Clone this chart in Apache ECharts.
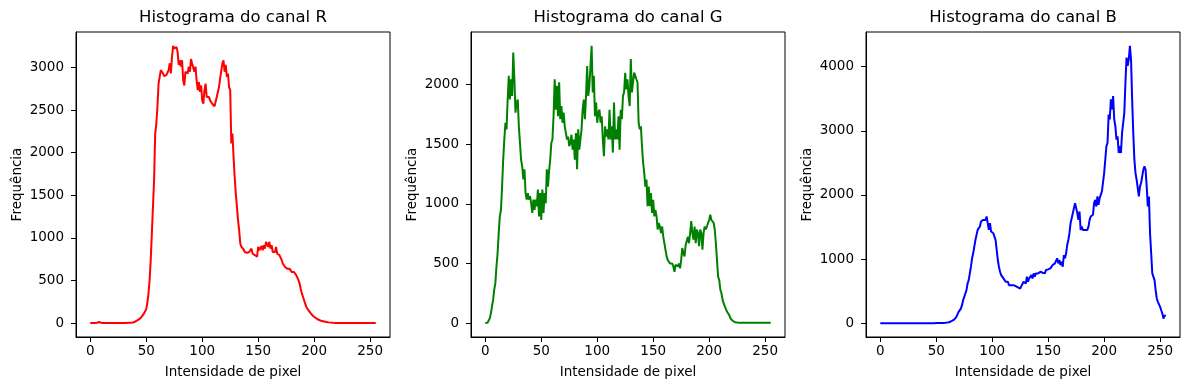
<!DOCTYPE html>
<html>
<head>
<meta charset="utf-8">
<script src="https://cdn.jsdelivr.net/npm/echarts@6/dist/echarts.min.js"></script>
<style>
html,body{margin:0;padding:0;background:#fff;}
#chart{width:1189px;height:390px;}
</style>
</head>
<body>
<div id="chart"></div>
<script>
// ---- data ----
const titles = ["Histograma do canal R", "Histograma do canal G", "Histograma do canal B"];
const xLabel = "Intensidade de pixel";
const yLabel = "Frequência";
const colors = ["#ff0000", "#008000", "#0000ff"];
const xTicks = [0, 50, 100, 150, 200, 250];
const yTicksR = [0, 500, 1000, 1500, 2000, 2500, 3000];
const yTicksG = [0, 500, 1000, 1500, 2000];
const yTicksB = [0, 1000, 2000, 3000, 4000];

const histR = [
  2,1,3,2,4,3,5,8,14,6, 4,3,3,4,2,3,3,4,3,2, 3,4,3,3,2,3,4,3,2,3, 3,4,3,4,5,4,6,7,9,12,
  18,25,34,42,50,62,78,95,115,135, 165,240,350,505,740,1050,1365,1680,2225,2340,
  2540,2810,2890,2970,2970,2930,2900,2890,2910,2890, 2970,3050,2930,3125,3254,3220,3200,3240,3185,3030,
  3085,3010,3085,2850,2790,2950,2970,2930,3010,2950, 3100,3045,3065,2950,3010,2850,2735,2830,2715,2790,
  2615,2575,2735,2810,2655,2635,2655,2615,2595,2575, 2575,2545,2540,2655,2675,2770,2870,2890,3045,3085,
  2950,3030,2890,2930,2770,2735,2110,2225,1950,1715, 1520,1365,1210,1090,935,895,875,865,835,850,
  825,825,835,815,875,815,810,800,780,780, 895,855,875,905,855,915,875,955,975,895,
  955,875,915,835,850,835,895,815,810,800, 780,740,700,680,660,640,640,660,640,660,
  600,590,600,585,565,565,505,465,405,350, 310,270,230,190,170,150,135,115,95,85,
  75,65,55,47,43,35,28,25,25,20, 20,15,12,10,8,7,6,5,5,4,
  4,3,3,3,3,3,3,3,3,3, 3,3,3,3,3,3,3,3,3,3, 3,3,3,3,3,3,3,3,3,3, 3,3,3,3,3,3
];

const histG = [
  0,0,3,11,40,80,140,195,280,335, 475,585,755,895,950,1145,1370,1540,1680,1625,
  1875,2075,1875,2045,1905,2270,2045,1765,1850,1875, 1650,1665,1370,1315,1205,1290,1090,1035,1090,1035,
  1065,1005,925,1035,950,1035,980,1120,895,1090, 865,1120,925,1090,1005,1290,1145,1275,1370,1510,
  1540,1735,2045,1790,1990,1735,2020,1710,1820,1680, 1765,1650,1595,1540,1565,1485,1510,1580,1455,1540,
  1370,1595,1290,1625,1455,1540,1625,1790,1875,1710, 1905,2155,1905,1990,2155,2325,1935,2075,1735,1850,
  1680,1765,1790,1680,1735,1540,1400,1650,1565,1625, 1540,1790,1540,1650,1430,1850,1540,1625,1540,1735,
  1455,1790,1710,1905,1935,2100,1960,2045,1905,1820, 2215,1935,2020,2100,2075,2045,2020,1680,1625,1650,
  1485,1345,1260,1145,1205,980,1145,980,1090,925, 1035,895,950,895,785,840,810,755,810,725,
  670,615,560,530,545,500,515,500,475,430, 490,500,475,500,460,530,630,585,560,655,
  645,725,670,755,855,755,700,810,670,785, 755,645,785,755,615,755,810,785,810,840,
  865,910,865,855,840,785,670,530,390,360, 280,250,195,165,140,125,95,80,67,40,
  30,20,14,8,6,5,3,3,3,3, 3,3,3,3,3,3,3,3,3,3, 3,3,3,3,3,3,3,3,3,3, 3,3,3,3,3,3
];

const histB = [
  2,2,2,2,2,2,2,2,2,2, 2,2,2,2,2,2,2,2,2,2, 2,2,2,2,2,2,2,2,2,2,
  2,2,2,2,2,2,2,2,2,2, 2,2,2,2,2,2,2,2,2,2, 3,3,3,4,4,5,5,6,7,8,
  10,14,20,28,36,47,57,73,99,125, 177,203,229,282,360,412,464,516,620,673,
  777,881,1012,1090,1194,1298,1377,1455,1481,1507, 1585,1570,1611,1585,1611,1664,1637,1455,1559,1429,
  1455,1403,1351,1298,1142,986,881,803,751,725, 699,673,647,620,647,594,620,594,579,594,
  568,579,568,558,579,542,579,558,647,673, 620,725,647,699,673,751,699,777,725,777,
  751,777,787,803,829,787,818,777,829,818, 840,840,855,881,907,907,933,907,1012,933,
  986,907,960,881,1064,1012,1090,1220,1298,1403, 1559,1637,1716,1794,1872,1846,1716,1611,1742,1455,
  1507,1455,1481,1455,1429,1455,1507,1611,1664,1664, 1690,1872,1924,1820,1976,1846,1950,1924,2055,2029,
  2341,2341,2759,2811,3254,3176,3489,3332,3541,3176, 3072,2863,2915,2654,2759,2654,2967,2967,3280,3749,
  4141,4010,4115,4323,4115,3489,2967,2550,2341,2237, 2211,1976,2133,2185,2289,2393,2445,2393,2133,1820,
  1976,1403,1090,777,751,673,516,386,334,308, 256,203,151,73,125,110
];

// ---- chart ----
const FONT = "DejaVu Sans";
const hists = [histR, histG, histB];
const yTicks = [yTicksR, yTicksG, yTicksB];
const gridLefts = [76, 471, 866];
const gridTop = 32, gridW = 314, gridH = 305;
const plain = v => String(v);

const chart = echarts.init(document.getElementById('chart'), null, {renderer: 'canvas'});

const grids = [], xAxes = [], yAxes = [], series = [], graphics = [];
hists.forEach((h, i) => {
  let mn = Math.min(...h), mx = Math.max(...h);
  const pad = 0.05 * (mx - mn);
  grids.push({left: gridLefts[i], top: gridTop, width: gridW, height: gridH, show: true,
    borderColor: '#000', borderWidth: 1, backgroundColor: '#fff'});
  xAxes.push({
    gridIndex: i, type: 'value', min: -0.05 * 255, max: 255 * 1.05,
    axisLine: {show: true, onZero: false, lineStyle: {color: '#000', width: 1}},
    axisTick: {show: true, length: 5, customValues: xTicks, lineStyle: {color: '#000', width: 1}},
    axisLabel: {customValues: xTicks, formatter: plain, margin: 7, fontSize: 13.5, color: '#000', fontFamily: FONT},
    splitLine: {show: false},
    name: xLabel, nameLocation: 'middle', nameGap: 28,
    nameTextStyle: {fontSize: 13.5, color: '#000', fontFamily: FONT}
  });
  yAxes.push({
    gridIndex: i, type: 'value', min: mn - pad, max: mx + pad,
    axisLine: {show: true, onZero: false, lineStyle: {color: '#000', width: 1}},
    axisTick: {show: true, length: 5, customValues: yTicks[i], lineStyle: {color: '#000', width: 1}},
    axisLabel: {customValues: yTicks[i], formatter: plain, margin: 12, fontSize: 13.5, color: '#000', fontFamily: FONT},
    splitLine: {show: false},
    name: yLabel, nameLocation: 'middle', nameGap: 52,
    nameTextStyle: {fontSize: 13.5, color: '#000', fontFamily: FONT}
  });
  series.push({
    type: 'line', xAxisIndex: i, yAxisIndex: i, showSymbol: false, symbol: 'none',
    data: h.map((v, k) => [k, v]),
    lineStyle: {color: colors[i], width: 2}, itemStyle: {color: colors[i]},
    animation: false, silent: true
  });
  graphics.push({
    type: 'text', x: gridLefts[i] + gridW / 2, y: 18,
    style: {text: titles[i], textAlign: 'center', textVerticalAlign: 'middle',
      font: '16.5px "' + FONT + '"', fill: '#000'}
  });
});

chart.setOption({
  animation: false,
  backgroundColor: '#fff',
  grid: grids, xAxis: xAxes, yAxis: yAxes, series: series, graphic: graphics
});
</script>
</body>
</html>
